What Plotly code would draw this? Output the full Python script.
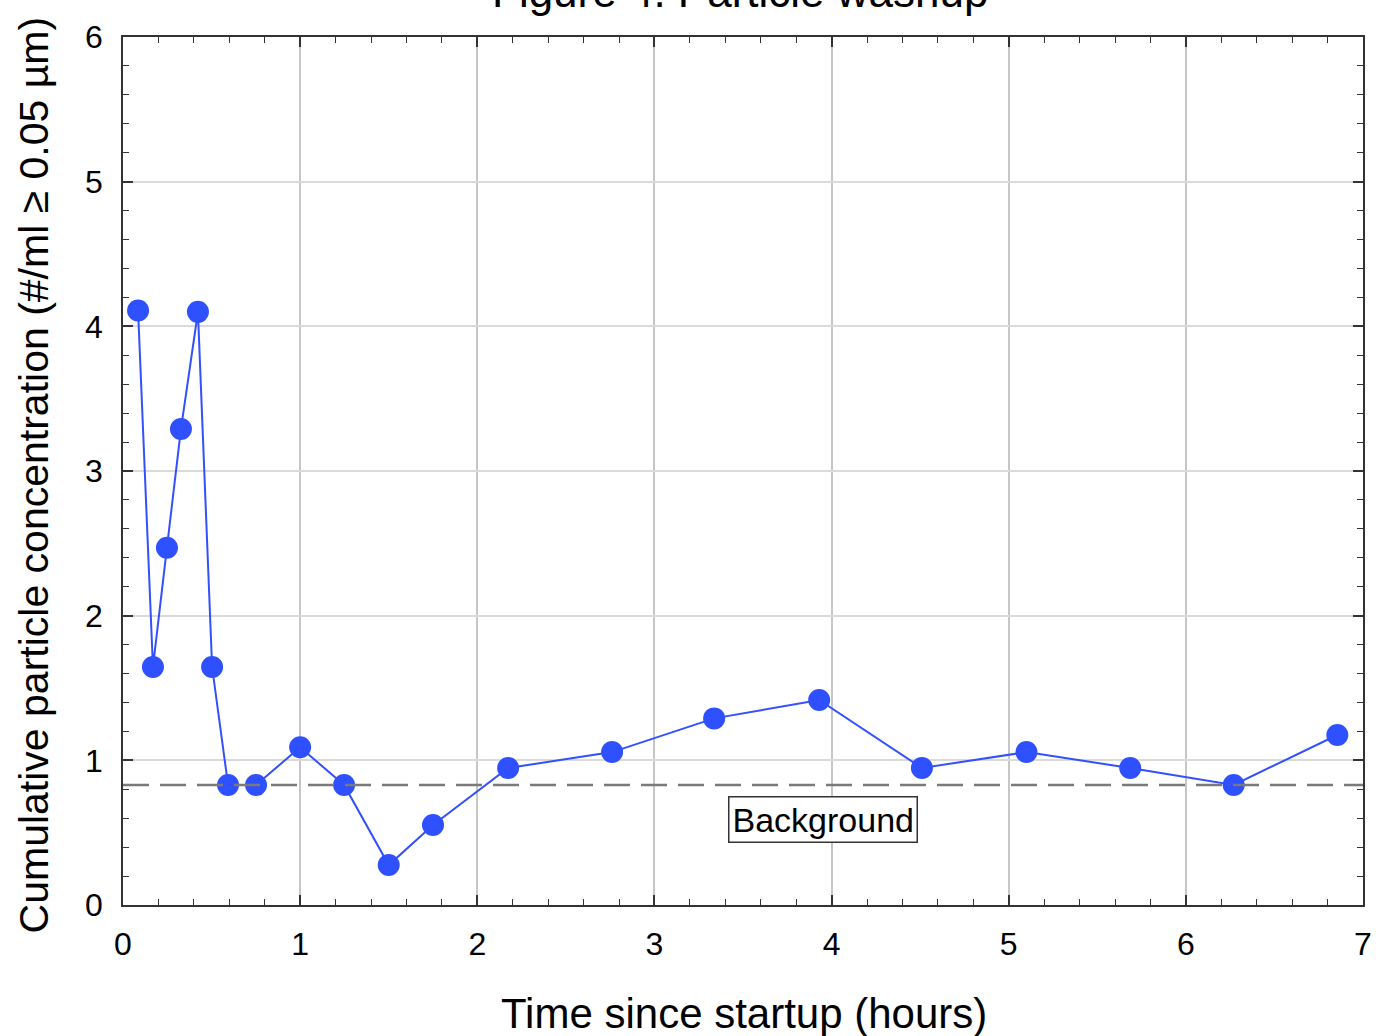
import plotly.graph_objects as go

time_hours = [0.085, 0.169, 0.248, 0.327, 0.423, 0.503, 0.593, 0.751, 1.0, 1.248,
              1.50, 1.75, 2.174, 2.761, 3.337, 3.93, 4.51, 5.10, 5.686, 6.27, 6.855]
concentration = [4.11, 1.645, 2.47, 3.29, 4.10, 1.645, 0.83, 0.83, 1.09, 0.83,
                 0.276, 0.553, 0.947, 1.057, 1.29, 1.417, 0.947, 1.057, 0.947, 0.83, 1.175]
background_level = 0.83
background_label = "Background"
title_text = "Figure 4. Particle washup"
x_title = "Time since startup (hours)"
y_title = "Cumulative particle concentration (#/ml \u2265 0.05 \u00b5m)"

FONT = "Liberation Sans, Arial, Helvetica, sans-serif"

fig = go.Figure()
fig.add_hline(y=background_level, line=dict(color="#7a7a7a", width=2.5, dash="26px,11px"))
fig.add_trace(go.Scatter(
    x=time_hours, y=concentration, mode="lines+markers",
    line=dict(color="#3350ff", width=2),
    marker=dict(color="#2f50ff", size=22),
    showlegend=False,
))

fig.add_annotation(x=3.95, y=0.59, xref="x", yref="y", text=background_label,
                   showarrow=False, font=dict(family=FONT, size=34, color="black"),
                   bordercolor="#333", borderwidth=1.5, borderpad=3, bgcolor="white")

# title (partly outside the page, as in the reference)
fig.add_annotation(x=0.4976, y=1.0215, xref="paper", yref="paper", text=title_text,
                   showarrow=False, yanchor="bottom",
                   font=dict(family=FONT, size=44, color="black"))

# axis titles
fig.add_annotation(x=0.5008, y=-0.1245, xref="paper", yref="paper", text=x_title,
                   showarrow=False, xanchor="center", yanchor="middle",
                   font=dict(family=FONT, size=42, color="black"))
fig.add_annotation(x=-0.071, y=0.496, xref="paper", yref="paper", text=y_title,
                   showarrow=False, xanchor="center", yanchor="middle", textangle=-90,
                   font=dict(family=FONT, size=41, color="black"))

axis_common = dict(
    showline=True, linecolor="#333", linewidth=1.5, mirror="ticks",
    ticks="inside", ticklen=10, tickwidth=1.5, tickcolor="#333",
    tickfont=dict(family=FONT, size=32, color="black"),
    zeroline=False, showgrid=True, automargin=False,
    minor=dict(ticks="inside", ticklen=6, tickwidth=1.2, tickcolor="#333", dtick=0.2, showgrid=False),
)

fig.update_xaxes(range=[0, 7], dtick=1, gridcolor="#c6c6c6", gridwidth=1.5,
                 ticklabelstandoff=10, **axis_common)
fig.update_yaxes(range=[0, 6], dtick=1, gridcolor="#dadada", gridwidth=1.5,
                 ticklabelstandoff=12, **axis_common)

fig.update_layout(
    width=1376, height=1036,
    margin=dict(l=123, r=13, t=37, b=131),
    paper_bgcolor="white", plot_bgcolor="white",
    font=dict(family=FONT),
)

fig.write_html("out.html", config={"displayModeBar": False})

# remove the browser's default body margin so the figure fills the window exactly
with open("out.html", "r", encoding="utf-8") as f:
    html = f.read()
html = html.replace("<head>", "<head><style>html,body{margin:0;padding:0;overflow:hidden;}</style>", 1)
with open("out.html", "w", encoding="utf-8") as f:
    f.write(html)
